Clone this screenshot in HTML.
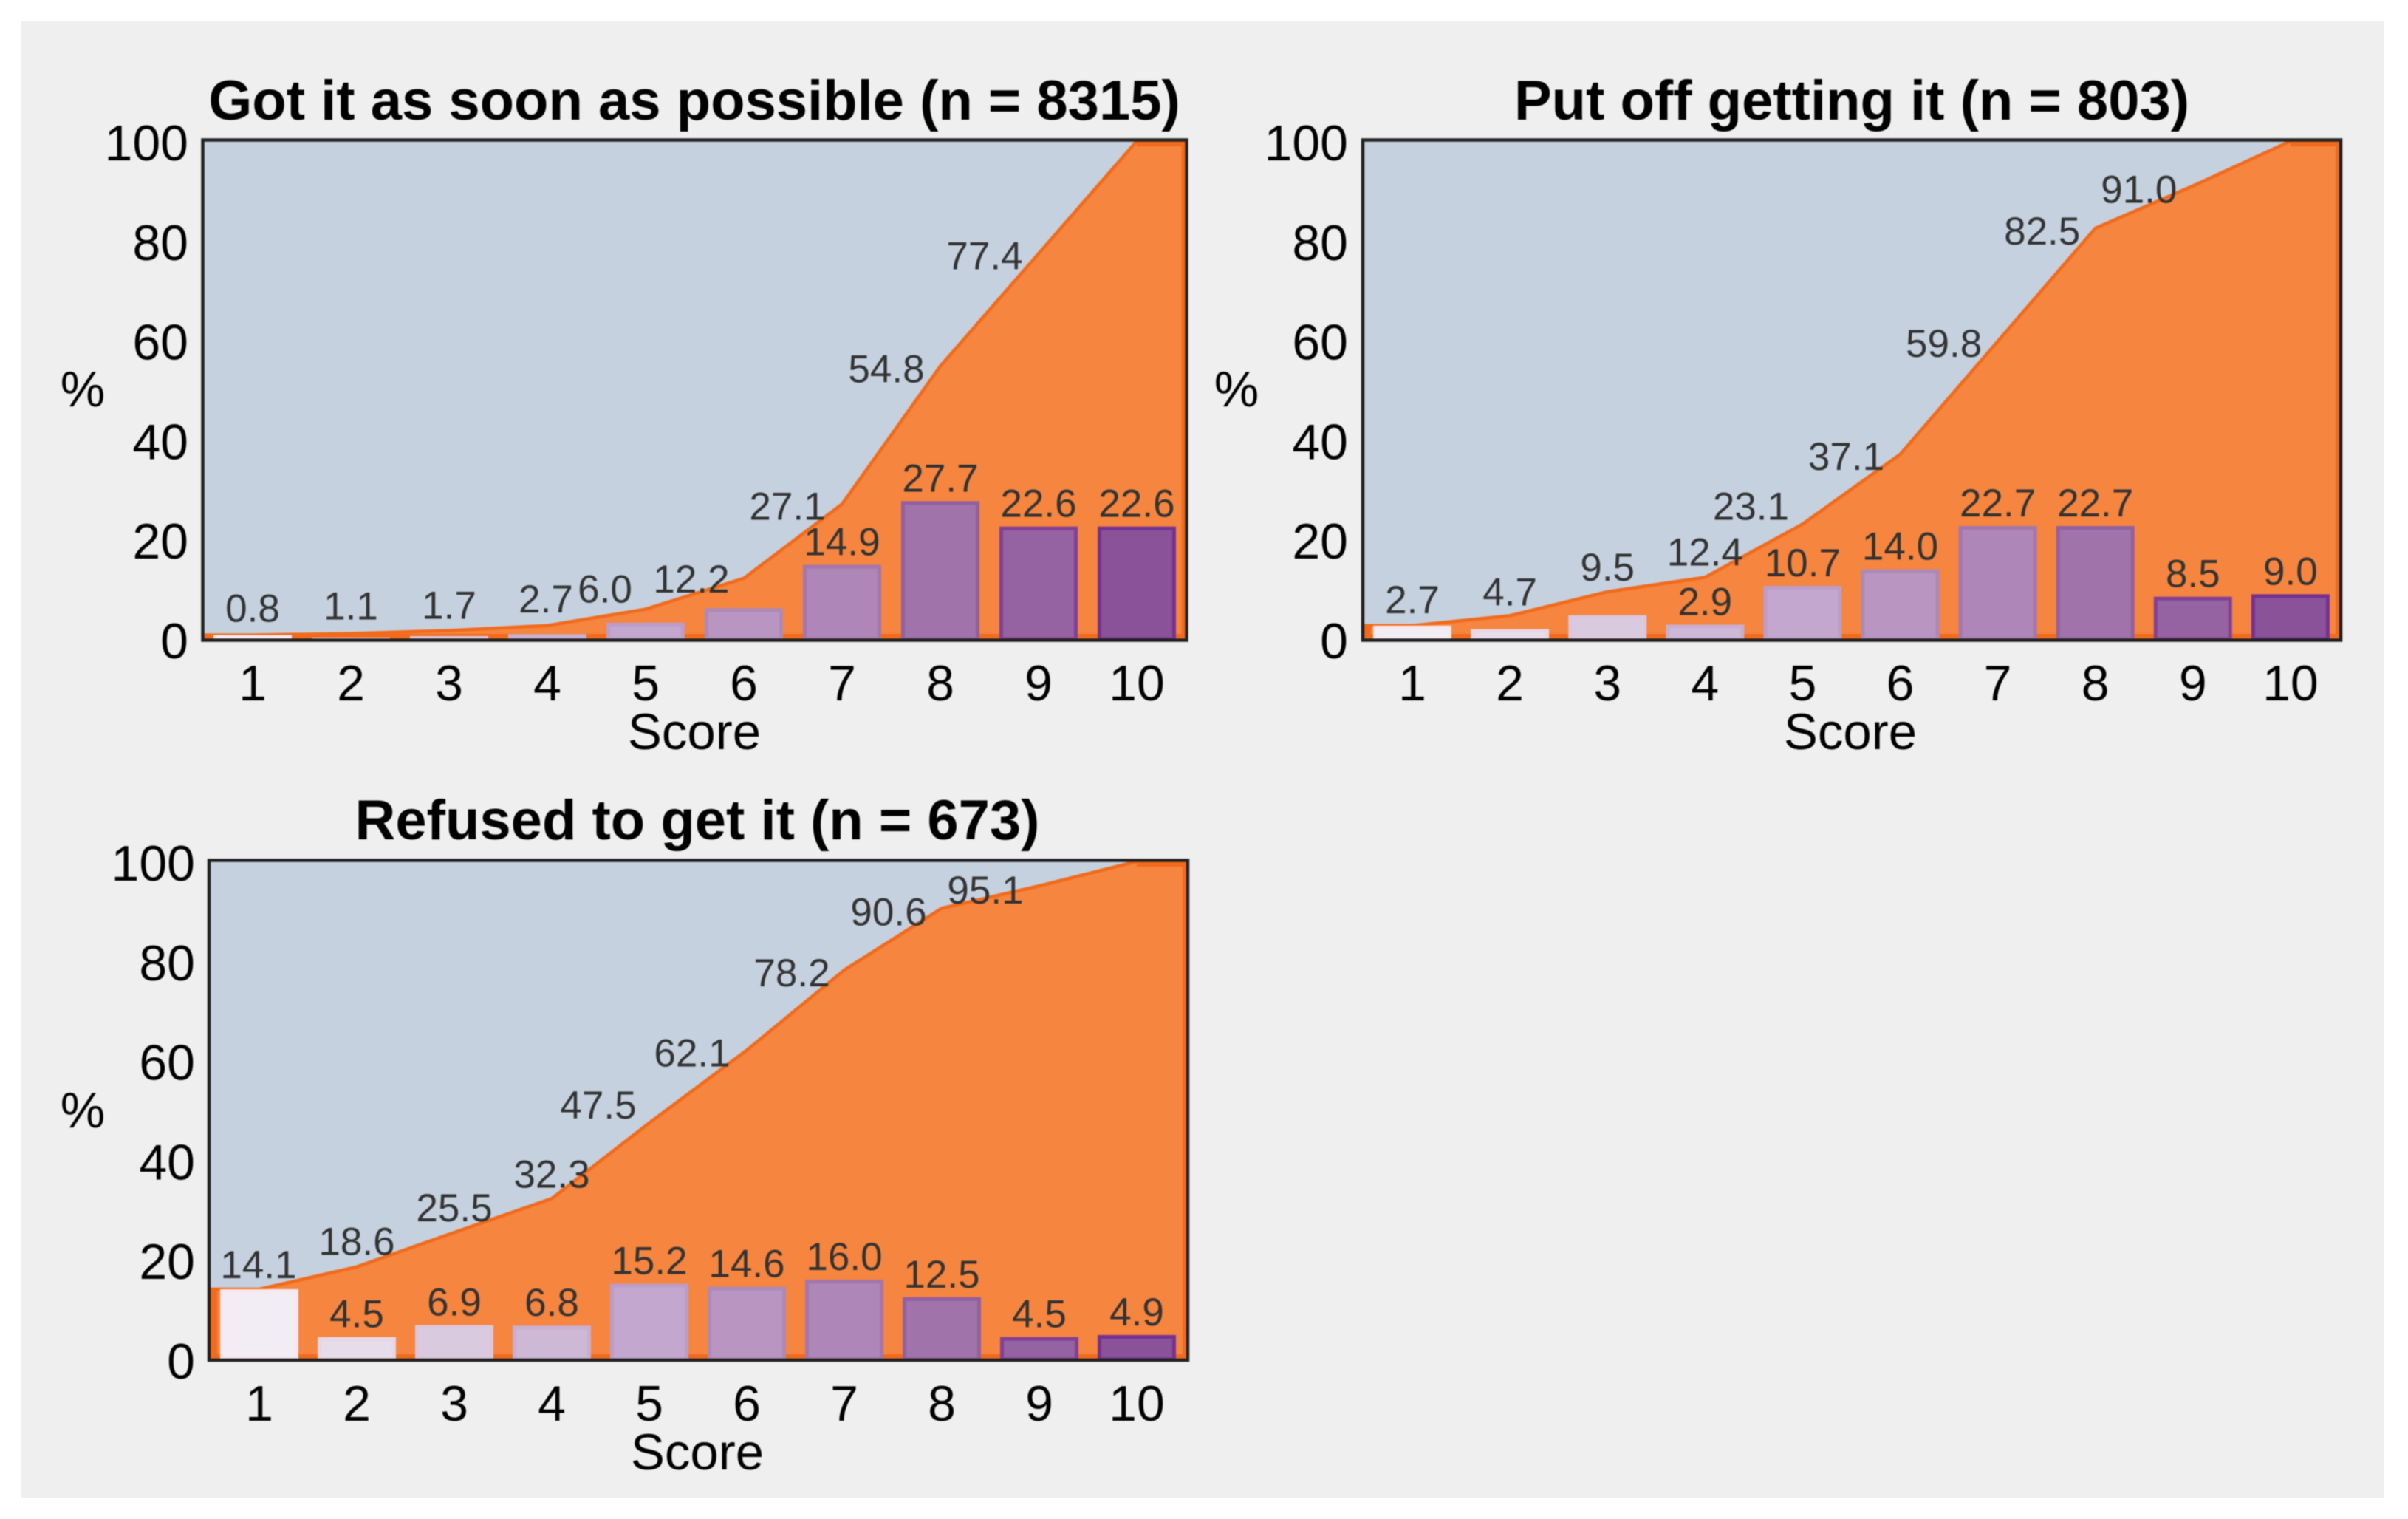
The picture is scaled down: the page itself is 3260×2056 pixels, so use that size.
<!DOCTYPE html>
<html lang="en">
<head>
<meta charset="utf-8">
<title>Score distributions by vaccination decision</title>
<style>
html,body{margin:0;padding:0;background:#fff;width:3260px;height:2056px;overflow:hidden}
svg{display:block;font-family:"Liberation Sans",Arial,sans-serif}
#chart .soft{filter:blur(0.7px)}
</style>
</head>
<body>
<svg id="chart" xmlns="http://www.w3.org/2000/svg" width="3260" height="2056" viewBox="0 0 3260 2056">
<rect x="29" y="29" width="3199" height="1998" fill="#efefef"/>
</svg>
<script>
const scoreCategories = ['1','2','3','4','5','6','7','8','9','10'];
const yTickLabels = [0,20,40,60,80,100];

const gotItTitle = 'Got it as soon as possible (n = 8315)';
const gotItCumulative = [0.8,1.1,1.7,2.7,6.0,12.2,27.1,54.8,77.4,100];
const gotItBars = [0.8,0.3,0.6,1.0,3.3,6.2,14.9,27.7,22.6,22.6];
const gotItCumulativeLabelled = [1,1,1,1,1,1,1,1,1,0];
const gotItBarLabelled = [0,0,0,0,0,0,1,1,1,1];

const putOffTitle = 'Put off getting it (n = 803)';
const putOffCumulative = [2.7,4.7,9.5,12.4,23.1,37.1,59.8,82.5,91.0,100];
const putOffBars = [2.7,2.0,4.8,2.9,10.7,14.0,22.7,22.7,8.5,9.0];
const putOffCumulativeLabelled = [1,1,1,1,1,1,1,1,1,0];
const putOffBarLabelled = [0,0,0,1,1,1,1,1,1,1];

const refusedTitle = 'Refused to get it (n = 673)';
const refusedCumulative = [14.1,18.6,25.5,32.3,47.5,62.1,78.2,90.6,95.1,100];
const refusedBars = [14.1,4.5,6.9,6.8,15.2,14.6,16.0,12.5,4.5,4.9];
const refusedCumulativeLabelled = [1,1,1,1,1,1,1,1,1,0];
const refusedBarLabelled = [0,1,1,1,1,1,1,1,1,1];

const barFills = ['#f2edf4','#e6dcea','#dacadf','#cdb8d6','#c3a7cf','#b995c1','#ae86b7','#a074aa','#9562a2','#8a5298'];
const barStrokes = ['#f5e8ee','#e8d6e3','#dcc6dc','#c9aed0','#bb9dc7','#ad89b8','#a376ae','#935fa0','#833f95','#753191'];

const panels = [
  {key:'got-it', title:gotItTitle, cum:gotItCumulative, bars:gotItBars, cumOn:gotItCumulativeLabelled, barOn:gotItBarLabelled,
   left:274.5, right:1606.5, top:189.5, bottom:866.5, y0:865, y100:191, c1:342, step:133,
   titleX:940, titleY:162, scoreX:940, scoreY:1014, tickXY:948, pctX:112, pctY:550, yTickX:255,
   nudgeX:[0,0,0,-2,-55,-71,-74,-73,-73,0], nudgeY:[-18,-19,-16,-18,-9,19,21,22,21,0]},
  {key:'put-off', title:putOffTitle, cum:putOffCumulative, bars:putOffBars, cumOn:putOffCumulativeLabelled, barOn:putOffBarLabelled,
   left:1845, right:3169, top:189.5, bottom:866.5, y0:865, y100:191, c1:1912, step:132.1,
   titleX:2507, titleY:162, scoreX:2505, scoreY:1014, tickXY:948, pctX:1674, pctY:550, yTickX:1825,
   nudgeX:[0,0,0,0,-70,-73,-73,-72,-73,0], nudgeY:[-17,-14,-15,-16,-6,21,21,22,23,0]},
  {key:'refused', title:refusedTitle, cum:refusedCumulative, bars:refusedBars, cumOn:refusedCumulativeLabelled, barOn:refusedBarLabelled,
   left:283, right:1608, top:1164.5, bottom:1841, y0:1840, y100:1166, c1:351, step:132,
   titleX:944, titleY:1136, scoreX:944, scoreY:1989, tickXY:1923, pctX:112, pctY:1526, yTickX:264,
   nudgeX:[-1,0,0,0,-69,-74,-71,-72,-73,0], nudgeY:[-15,-16,-15,-15,-6,22,22,23,24,0]}
];

const SVGNS = 'http://www.w3.org/2000/svg';
const root = document.getElementById('chart');

function make(tag, attrs, parent, text){
  const node = document.createElementNS(SVGNS, tag);
  for (const k in attrs) node.setAttribute(k, attrs[k]);
  if (text !== undefined) node.textContent = text;
  parent.appendChild(node);
  return node;
}

panels.forEach(function(p){
  const yScale = function(v){ return p.y0 + (p.y100 - p.y0) * v / 100; };
  const xScale = function(i){ return p.c1 + p.step * i; };
  const barW = 106;
  const barStroke = 5;
  const last = p.cum.length - 1;
  const clipUrl = 'url(#clip-' + p.key + ')';

  const g = make('g', {'class':'soft'}, root);
  
  

  const clip = make('clipPath', {id:'clip-' + p.key}, g);
  make('rect', {x:p.left, y:p.top, width:p.right - p.left, height:p.bottom - p.top}, clip);

  const title = make('text', {x:p.titleX, y:p.titleY, 'text-anchor':'middle', 'font-size':76, 'font-weight':'bold', fill:'#000'}, g, p.title);
  
  

  const plotBg = make('rect', {x:p.left, y:p.top, width:p.right - p.left, height:p.bottom - p.top, fill:'#c5d1de'}, g);
  
  

  const linePts = [[p.left, yScale(p.cum[0])]];
  p.cum.forEach(function(v, i){ linePts.push([xScale(i), yScale(v)]); });
  linePts.push([p.right, yScale(p.cum[last])]);
  const toStr = function(a){ return a.map(function(q){ return q[0] + ',' + q[1]; }).join(' '); };

  const area = make('polygon', {points: toStr(linePts.concat([[p.right, p.y0],[p.left, p.y0]])), fill:'#f5853f', 'clip-path':clipUrl}, g);
  
  

  const line = make('polyline', {points: toStr(linePts), fill:'none', stroke:'#f26a1b', 'stroke-width':4.5, 'stroke-linejoin':'round', 'clip-path':clipUrl}, g);
  
  

  const edge = make('path', {d:'M' + p.left + ' ' + p.y0 + ' L' + p.right + ' ' + p.y0 + ' L' + p.right + ' ' + yScale(p.cum[last]) + ' L' + xScale(last) + ' ' + yScale(p.cum[last]),
    fill:'none', stroke:'#f26a1b', 'stroke-width':14, 'clip-path':clipUrl}, g);
  
  

  const leftEdge = make('line', {x1:p.left, y1:yScale(p.cum[0]), x2:p.left, y2:p.y0, stroke:'#f26a1b', 'stroke-width':22, 'clip-path':clipUrl}, g);
  
  

  p.bars.forEach(function(v, i){
    const top = yScale(v);
    const bar = make('rect', {x:xScale(i) - barW / 2 + barStroke / 2, y:top + barStroke / 2, width:barW - barStroke, height:Math.max(p.y0 - top - barStroke / 2, 0.5),
      fill:barFills[i], stroke:barStrokes[i], 'stroke-width':barStroke}, g);
    
    
  });

  const frame = make('rect', {x:p.left, y:p.top, width:p.right - p.left, height:p.bottom - p.top, fill:'none', stroke:'#222', 'stroke-width':4.5}, g);
  
  

  p.cum.forEach(function(v, i){
    if (!p.cumOn[i]) return;
    const t = make('text', {x:xScale(i) + p.nudgeX[i], y:yScale(v) + p.nudgeY[i], 'text-anchor':'middle', 'font-size':53, fill:'#333'}, g, v.toFixed(1));
    
    
  });

  p.bars.forEach(function(v, i){
    if (!p.barOn[i]) return;
    const t = make('text', {x:xScale(i), y:yScale(v) - 13, 'text-anchor':'middle', 'font-size':53, fill:'#333'}, g, v.toFixed(1));
    
    
  });

  yTickLabels.forEach(function(v){
    const t = make('text', {x:p.yTickX, y:yScale(v) + 26, 'text-anchor':'end', 'font-size':68, fill:'#000'}, g, String(v));
    
    
  });

  scoreCategories.forEach(function(c, i){
    const t = make('text', {x:xScale(i), y:p.tickXY, 'text-anchor':'middle', 'font-size':68, fill:'#000'}, g, c);
    
    
  });

  const xTitle = make('text', {x:p.scoreX, y:p.scoreY, 'text-anchor':'middle', 'font-size':69, fill:'#000'}, g, 'Score');
  
  

  const yTitle = make('text', {x:p.pctX, y:p.pctY, 'text-anchor':'middle', 'font-size':68, fill:'#000'}, g, '%');
  
  
});
</script>
</body>
</html>
